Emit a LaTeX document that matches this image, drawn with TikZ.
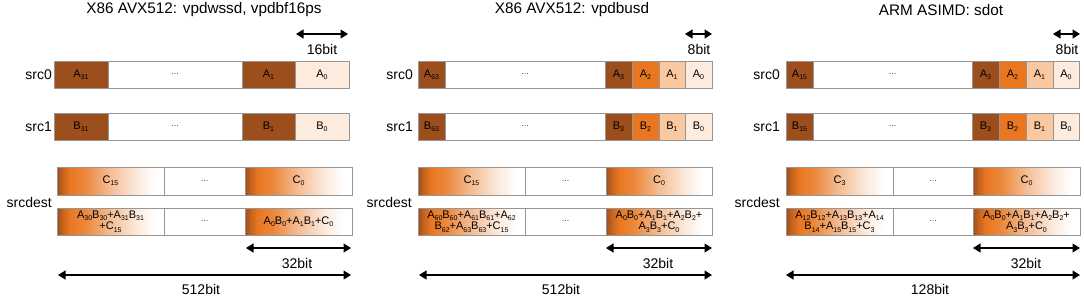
\documentclass[tikz,border=0pt]{standalone}
\usepackage{fontspec}
\setmainfont{Liberation Sans}
\usetikzlibrary{arrows.meta}
\definecolor{cdark}{RGB}{156,79,29}
\definecolor{corange}{RGB}{233,119,33}
\definecolor{clight}{RGB}{249,200,160}
\definecolor{cpale}{RGB}{253,235,221}
\definecolor{bordergray}{RGB}{150,150,150}
\pgfdeclarehorizontalshading{cgrad}{100bp}{color(0bp)=(cdark); color(25bp)=(cdark); color(27.5bp)=(cdark!50!corange); color(31bp)=(corange); color(38bp)=(corange!88!white); color(50bp)=(corange!48!white); color(62bp)=(corange!16!white); color(71bp)=(white); color(100bp)=(white)}
\newcommand\sbs[1]{\raisebox{-0.35ex}{\fontsize{7}{7}\selectfont #1}}
\newcommand\mkcell[7]{\node[cellbox,#6,minimum width={(#3-#2)*1pt},minimum height={(#5-#4)*1pt}] (#1) at ({(#2+#3)/2},{(#4+#5)/2}) {#7};}
\newcommand\dts{{\fontsize{9}{9}\selectfont\color{black!75}...}}
\begin{document}
\begin{tikzpicture}[x=1pt,y=-1pt,
  cellbox/.style={draw=bordergray,line width=0.7pt,inner sep=0pt,align=center,font=\fontsize{11}{11}\selectfont},
  dk/.style={fill=cdark},
  og/.style={fill=corange},
  lt/.style={fill=clight},
  pl/.style={fill=cpale},
  wh/.style={fill=white},
  gr/.style={shading=cgrad},
  fm/.style={font=\fontsize{11}{11.5}\selectfont},
  lbl/.style={font=\fontsize{14}{16}\selectfont,inner sep=0pt},
  ttl/.style={font=\fontsize{15.3}{17}\selectfont,inner sep=0pt},
  dim/.style={{Triangle[length=7.5pt,width=9pt]}-{Triangle[length=7.5pt,width=9pt]},line width=1.1pt}]
\useasboundingbox (0,0) rectangle (1084,298);

% ---------- Panel 1 ----------
\node[ttl] (t1) at (204,10) {X86 AVX512: vpdwssd, vpdbf16ps};
\coordinate (p1wa) at (296,34); \coordinate (p1wb) at (348,34);
\draw[dim] (p1wa) -- (p1wb);
\node[lbl] (p1w) at (322,49) {16bit};
\node[lbl,anchor=east] (p1s0) at (52,74.5) {src0};
\node[lbl,anchor=east] (p1s1) at (52,126.5) {src1};
\node[lbl,anchor=east] (p1sd) at (52,202) {srcdest};
\mkcell{p1a31}{54}{108}{61}{88}{dk}{A\sbs{31}}
\mkcell{p1ad}{108}{242}{61}{88}{wh}{\dts}
\mkcell{p1a1}{242}{295}{61}{88}{dk}{A\sbs{1}}
\mkcell{p1a0}{295}{349}{61}{88}{pl}{A\sbs{0}}
\mkcell{p1b31}{54}{108}{113}{140}{dk}{B\sbs{31}}
\mkcell{p1bd}{108}{242}{113}{140}{wh}{\dts}
\mkcell{p1b1}{242}{295}{113}{140}{dk}{B\sbs{1}}
\mkcell{p1b0}{295}{349}{113}{140}{pl}{B\sbs{0}}
\mkcell{p1c15}{57}{164}{167}{195}{gr}{C\sbs{15}}
\mkcell{p1cd}{164}{245}{167}{195}{wh}{\dts}
\mkcell{p1c0}{245}{352}{167}{195}{gr}{C\sbs{0}}
\mkcell{p1r15}{57}{164}{208}{235}{gr,fm}{A\sbs{30}B\sbs{30}+A\sbs{31}B\sbs{31}\\+C\sbs{15}}
\mkcell{p1rd}{164}{245}{208}{235}{wh}{\dts}
\mkcell{p1r0}{245}{352}{208}{235}{gr,fm}{A\sbs{0}B\sbs{0}+A\sbs{1}B\sbs{1}+C\sbs{0}}
\coordinate (p1da) at (246,248); \coordinate (p1db) at (351,248);
\draw[dim] (p1da) -- (p1db);
\node[lbl] (p1d) at (297,263) {32bit};
\coordinate (p1ta) at (58,275); \coordinate (p1tb) at (351,275);
\draw[dim] (p1ta) -- (p1tb);
\node[lbl] (p1t) at (201,289) {512bit};

% ---------- Panel 2 ----------
\node[ttl] (t2) at (572,10) {X86 AVX512: vpdbusd};
\coordinate (p2wa) at (685,34); \coordinate (p2wb) at (712,34);
\draw[dim] (p2wa) -- (p2wb);
\node[lbl] (p2w) at (699,49) {8bit};
\node[lbl,anchor=east] (p2s0) at (413,74.5) {src0};
\node[lbl,anchor=east] (p2s1) at (413,126.5) {src1};
\node[lbl,anchor=east] (p2sd) at (412,202) {srcdest};
\mkcell{p2a63}{418}{445}{61}{88}{dk}{A\sbs{63}}
\mkcell{p2ad}{445}{605}{61}{88}{wh}{\dts}
\mkcell{p2a3}{605}{632}{61}{88}{dk}{A\sbs{3}}
\mkcell{p2a2}{632}{659}{61}{88}{og}{A\sbs{2}}
\mkcell{p2a1}{659}{685}{61}{88}{lt}{A\sbs{1}}
\mkcell{p2a0}{685}{712}{61}{88}{pl}{A\sbs{0}}
\mkcell{p2b63}{418}{445}{113}{140}{dk}{B\sbs{63}}
\mkcell{p2bd}{445}{605}{113}{140}{wh}{\dts}
\mkcell{p2b3}{605}{632}{113}{140}{dk}{B\sbs{3}}
\mkcell{p2b2}{632}{659}{113}{140}{og}{B\sbs{2}}
\mkcell{p2b1}{659}{685}{113}{140}{lt}{B\sbs{1}}
\mkcell{p2b0}{685}{712}{113}{140}{pl}{B\sbs{0}}
\mkcell{p2c15}{418}{525}{167}{195}{gr}{C\sbs{15}}
\mkcell{p2cd}{525}{606}{167}{195}{wh}{\dts}
\mkcell{p2c0}{606}{712}{167}{195}{gr}{C\sbs{0}}
\mkcell{p2r15}{418}{525}{208}{235}{gr,fm}{A\sbs{60}B\sbs{60}+A\sbs{61}B\sbs{61}+A\sbs{62}\\B\sbs{62}+A\sbs{63}B\sbs{63}+C\sbs{15}}
\mkcell{p2rd}{525}{606}{208}{235}{wh}{\dts}
\mkcell{p2r0}{606}{712}{208}{235}{gr,fm}{A\sbs{0}B\sbs{0}+A\sbs{1}B\sbs{1}+A\sbs{2}B\sbs{2}+\\A\sbs{3}B\sbs{3}+C\sbs{0}}
\coordinate (p2da) at (606,248); \coordinate (p2db) at (712,248);
\draw[dim] (p2da) -- (p2db);
\node[lbl] (p2d) at (658,263) {32bit};
\coordinate (p2ta) at (419,275); \coordinate (p2tb) at (712,275);
\draw[dim] (p2ta) -- (p2tb);
\node[lbl] (p2t) at (561,289) {512bit};

% ---------- Panel 3 ----------
\node[ttl] (t3) at (941,10) {ARM ASIMD: sdot};
\coordinate (p3wa) at (1053,34); \coordinate (p3wb) at (1080,34);
\draw[dim] (p3wa) -- (p3wb);
\node[lbl] (p3w) at (1067,49) {8bit};
\node[lbl,anchor=east] (p3s0) at (780,74.5) {src0};
\node[lbl,anchor=east] (p3s1) at (780,126.5) {src1};
\node[lbl,anchor=east] (p3sd) at (780,202) {srcdest};
\mkcell{p3a15}{786}{813}{61}{88}{dk}{A\sbs{15}}
\mkcell{p3ad}{813}{972}{61}{88}{wh}{\dts}
\mkcell{p3a3}{972}{999}{61}{88}{dk}{A\sbs{3}}
\mkcell{p3a2}{999}{1026}{61}{88}{og}{A\sbs{2}}
\mkcell{p3a1}{1026}{1053}{61}{88}{lt}{A\sbs{1}}
\mkcell{p3a0}{1053}{1079}{61}{88}{pl}{A\sbs{0}}
\mkcell{p3b15}{786}{813}{113}{140}{dk}{B\sbs{15}}
\mkcell{p3bd}{813}{972}{113}{140}{wh}{\dts}
\mkcell{p3b3}{972}{999}{113}{140}{dk}{B\sbs{3}}
\mkcell{p3b2}{999}{1026}{113}{140}{og}{B\sbs{2}}
\mkcell{p3b1}{1026}{1053}{113}{140}{lt}{B\sbs{1}}
\mkcell{p3b0}{1053}{1079}{113}{140}{pl}{B\sbs{0}}
\mkcell{p3c3}{786}{893}{167}{195}{gr}{C\sbs{3}}
\mkcell{p3cd}{893}{973}{167}{195}{wh}{\dts}
\mkcell{p3c0}{973}{1080}{167}{195}{gr}{C\sbs{0}}
\mkcell{p3r3}{786}{893}{208}{235}{gr,fm}{A\sbs{12}B\sbs{12}+A\sbs{13}B\sbs{13}+A\sbs{14}\\B\sbs{14}+A\sbs{15}B\sbs{15}+C\sbs{3}}
\mkcell{p3rd}{893}{973}{208}{235}{wh}{\dts}
\mkcell{p3r0}{973}{1080}{208}{235}{gr,fm}{A\sbs{0}B\sbs{0}+A\sbs{1}B\sbs{1}+A\sbs{2}B\sbs{2}+\\A\sbs{3}B\sbs{3}+C\sbs{0}}
\coordinate (p3da) at (973,248); \coordinate (p3db) at (1080,248);
\draw[dim] (p3da) -- (p3db);
\node[lbl] (p3d) at (1026,263) {32bit};
\coordinate (p3ta) at (786,275); \coordinate (p3tb) at (1080,275);
\draw[dim] (p3ta) -- (p3tb);
\node[lbl] (p3t) at (930,289) {128bit};
\end{tikzpicture}
\end{document}
